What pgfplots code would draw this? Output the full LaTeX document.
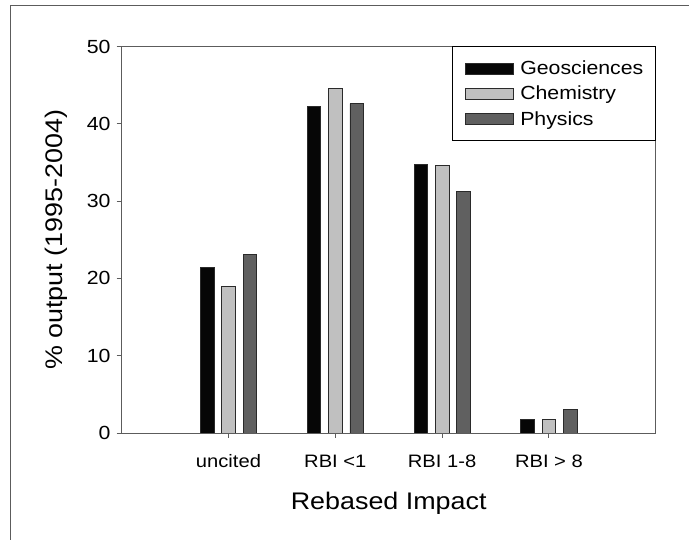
\documentclass[border=0pt]{standalone}
\usepackage{fontspec}
\setmainfont{Liberation Sans}[FakeStretch=1.12]
\usepackage{pgfplots}
\pgfplotsset{compat=1.18}
\definecolor{geo}{HTML}{060606}
\definecolor{chem}{HTML}{C0C0C0}
\definecolor{phys}{HTML}{606060}
\definecolor{axisgray}{HTML}{5C5C5C}
\definecolor{edge}{HTML}{2A2A2A}

\begin{document}
\begin{tikzpicture}
\path[use as bounding box] (0pt,0pt) rectangle (689pt,540pt);
% outer frame (top and left only, as cropped in the reference)
\draw[axisgray, line width=0.9pt] (10pt,0pt) -- (10pt,534.5pt) -- (689pt,534.5pt);

\begin{axis}[
    at={(121.7pt,107pt)}, anchor=south west,
    scale only axis, width=534pt, height=386.5pt,
    xmin=-1, xmax=4, ymin=0, ymax=50,
    ybar, bar width=13.5pt,
    xtick={0,1,2,3},
    xticklabels={uncited, RBI <1, RBI 1-8, RBI > 8},
    ytick={0,10,20,30,40,50},
    xtick pos=bottom, ytick pos=left,
    tick align=outside, major tick length=5pt,
    axis line style={axisgray, line width=0.9pt},
    every tick/.style={axisgray, line width=0.9pt},
    /pgf/number format/assume math mode=true,
    yticklabel style={font=\fontsize{19}{22}\selectfont, inner xsep=0pt, xshift=-6pt},
    xticklabel style={font=\fontsize{18}{22}\selectfont, anchor=base, yshift=-30pt},
    xlabel={Rebased Impact},
    xlabel style={font=\fontsize{24}{28}\selectfont, at={([yshift=-77pt]axis description cs:0.5,0)}, anchor=base},
    ylabel={\% output (1995-2004)},
    ylabel style={font=\fontsize{24}{28}\selectfont, at={([xshift=-59.7pt]axis description cs:0,0.5)}, anchor=base},
    legend image code/.code={\draw[#1] (0pt,-5.5pt) rectangle (48pt,5.5pt);},
    legend style={at={(1,1)}, anchor=north east, draw=black, line width=0.8pt,
        font=\fontsize{19}{21}\selectfont, inner xsep=12pt, inner ysep=12pt,
        row sep=6pt, cells={anchor=west},
        nodes={inner xsep=0pt}},
]
\addplot[fill=geo, draw=edge, line width=0.7pt, bar shift=-21.3pt] coordinates {
    (0,21.45) (1,42.2) (2,34.7) (3,1.75)
};
\addlegendentry{\hspace*{7pt}Geosciences}
\addplot[fill=chem, draw=edge, line width=0.7pt, bar shift=0pt] coordinates {
    (0,19.0) (1,44.55) (2,34.6) (3,1.8)
};
\addlegendentry{\hspace*{7pt}Chemistry}
\addplot[fill=phys, draw=edge, line width=0.7pt, bar shift=21.3pt] coordinates {
    (0,23.15) (1,42.6) (2,31.2) (3,3.05)
};
\addlegendentry{\hspace*{7pt}Physics}
\end{axis}
\end{tikzpicture}
\end{document}
